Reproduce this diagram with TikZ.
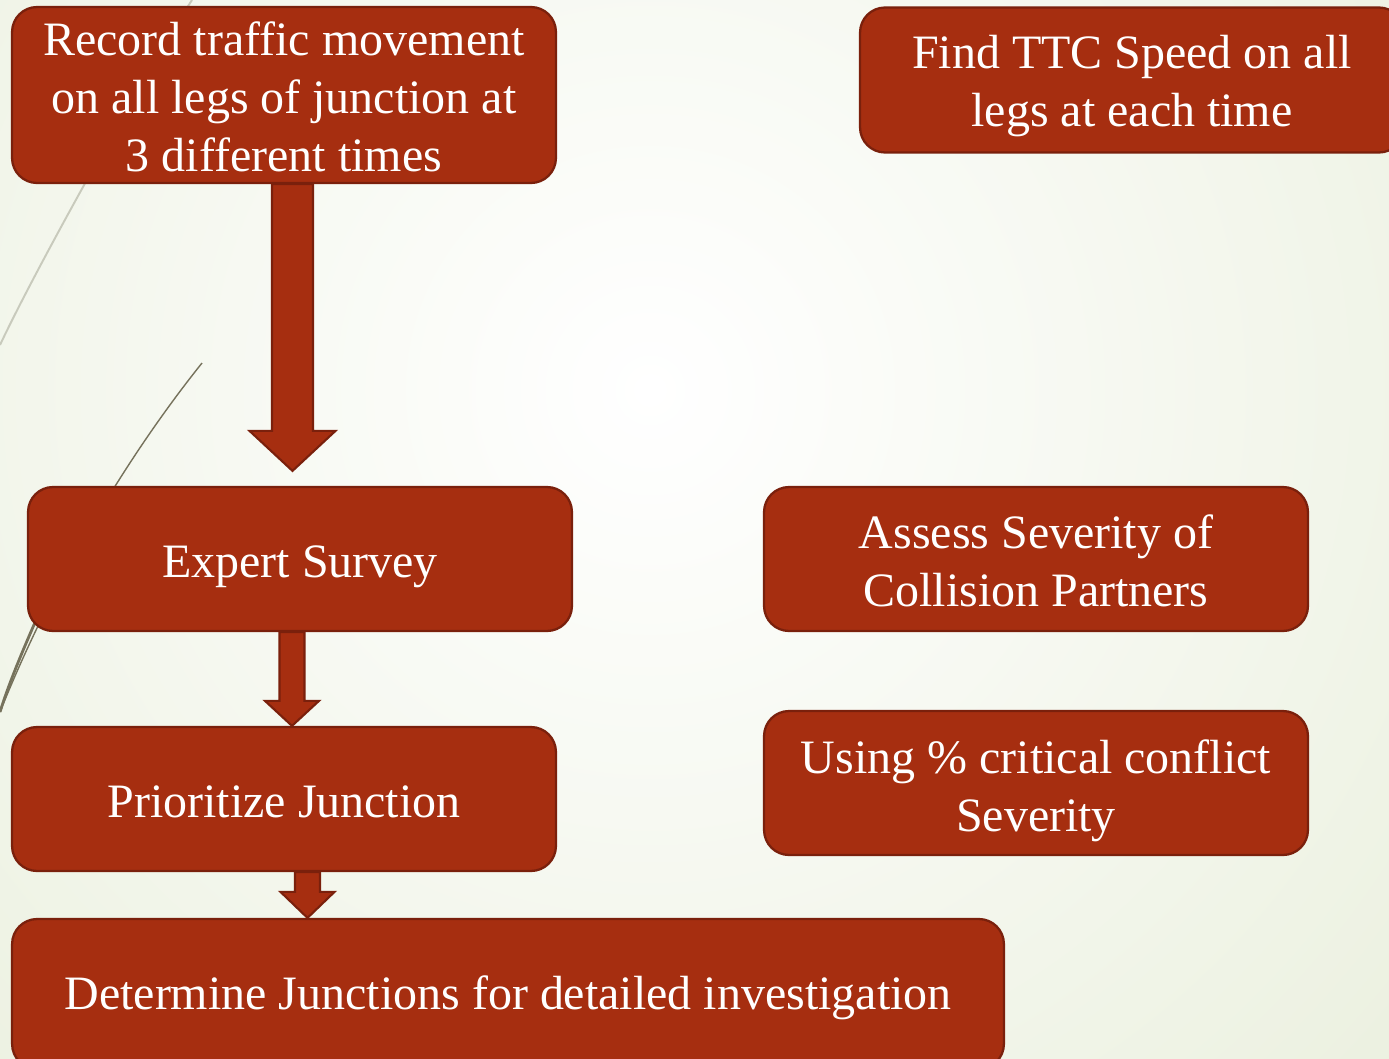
\documentclass[tikz,border=0pt]{standalone}
\usepackage{fontspec}
\setmainfont{Liberation Serif}
\usetikzlibrary{calc,shapes}

\definecolor{boxred}{RGB}{166,46,16}
\definecolor{boxline}{RGB}{122,32,12}
\definecolor{bggreen}{RGB}{228,235,212}
\definecolor{swirl}{RGB}{118,114,92}
\definecolor{swirllight}{RGB}{200,202,188}

\newcommand*{\FatArrow}[5]{%
\draw[arrowbody] let \p1=#1, \p2=#2 in
 (\x1-#3,\y1) -- (\x1-#3,\y2+#5) -- (\x1-#4,\y2+#5) -- (\x2,\y2)
 -- (\x1+#4,\y2+#5) -- (\x1+#3,\y2+#5) -- (\x1+#3,\y1) -- cycle;}
\newcommand*{\Drop}[2]{\raisebox{-#1}[\height][\depth]{\begin{tabular}{@{}c@{}}#2\end{tabular}}}

\begin{document}
\begin{tikzpicture}[x=0.02cm,y=-0.02cm,
  stepbox/.style={rectangle,rounded corners=0.5cm,fill=boxred,draw=boxline,
    line width=1.3pt,text=white,inner sep=0pt,
    minimum width=10.88cm,minimum height=2.88cm,
    font=\fontsize{27.3}{33}\selectfont},
  arrowbody/.style={fill=boxred,draw=boxline,line width=1.2pt,line join=miter}]
\useasboundingbox (0,0) rectangle (1389,1058);
\begin{scope}
\clip (0,0) rectangle (1389,1058);
\shade[inner color=white,outer color=bggreen] (650,390) circle (28cm);
\end{scope}
\draw[swirllight,line width=1.1pt] (192,0) .. controls (150,65) and (40,260) .. (0,345);
\draw[swirl,line width=0.8pt] (202,363) .. controls (114,473) and (44,602) .. (0,712);
\draw[swirl,line width=1.6pt] (44,602) .. controls (25,645) and (10,680) .. (0,712);

\coordinate (a1) at (292.5,0);
\coordinate (a2) at (292,0);
\coordinate (a3) at (307.5,0);

\node[stepbox,minimum height=3.52cm] (rec) at (284,95)
  {\Drop{0.14cm}{Record traffic movement\\on all legs of junction at\\3 different times}};
\node[stepbox,minimum height=2.9cm] (ttc) at (1132,80)
  {\Drop{0.12cm}{Find TTC Speed on all\\legs at each time}};
\node[stepbox] (exp) at (300,559) {\Drop{0.14cm}{Expert Survey}};
\node[stepbox] (sev) at (1036,559) {\Drop{0.14cm}{Assess Severity of\\Collision Partners}};
\node[stepbox] (pri) at (284,799) {\Drop{0.14cm}{Prioritize Junction}};
\node[stepbox] (crit) at (1036,783) {\Drop{0.16cm}{Using \% critical conflict\\Severity}};
\node[stepbox,minimum width=19.84cm,minimum height=3cm] (det) at (508,994)
  {\Drop{0.08cm}{Determine Junctions for detailed investigation}};

\FatArrow{(rec.south -| a1)}{($(exp.north -| a1)+(0,0.3cm)$)}{0.41cm}{0.86cm}{0.8cm}
\FatArrow{(exp.south -| a2)}{(pri.north -| a2)}{0.25cm}{0.54cm}{0.5cm}
\FatArrow{(pri.south -| a3)}{(det.north -| a3)}{0.25cm}{0.54cm}{0.52cm}

\end{tikzpicture}
\end{document}
